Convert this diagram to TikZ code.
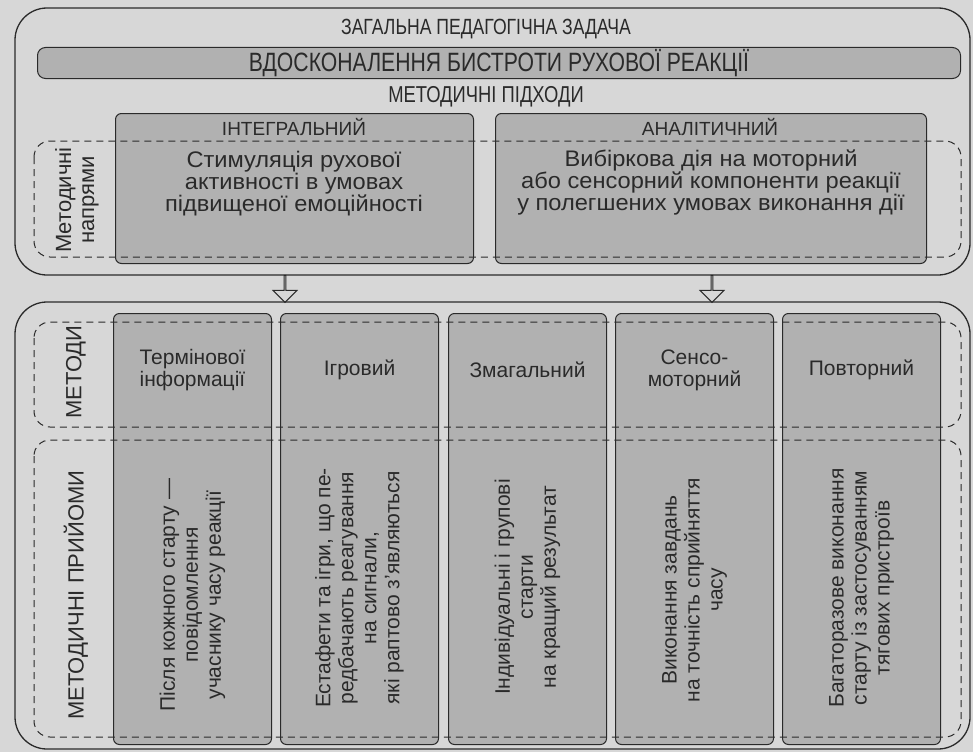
\documentclass[tikz,border=0pt]{standalone}
\usepackage{fontspec}
\setmainfont{Liberation Sans}
\newfontfamily\condfont[FakeStretch=0.8]{Liberation Sans}
\newfontfamily\wideface[FakeStretch=1.05]{Liberation Sans}
\usetikzlibrary{shapes.arrows}
\definecolor{paper}{HTML}{D7D7D7}
\definecolor{boxgray}{HTML}{B1B1B1}
\definecolor{ink}{HTML}{2A2A2A}

\begin{document}
\begin{tikzpicture}[x=1pt,y=-1pt,
  frame/.style={draw=ink, line width=1.3pt, rounded corners=32pt},
  panel/.style={draw=ink, fill=boxgray, line width=1pt, rounded corners=6pt,
    anchor=north west, inner sep=0pt},
  zone/.style={draw=ink, line width=1pt, dash pattern=on 7pt off 5pt,
    rounded corners=16pt},
  body/.style={text=ink, align=center, inner sep=0pt,
    font=\fontsize{21}{22}\selectfont},
  widebody/.style={body, font=\wideface\fontsize{22.5}{22}\selectfont},
  vbody/.style={body, rotate=90, font=\fontsize{21}{23}\selectfont},
  vlabel/.style={body, rotate=90, font=\fontsize{22}{23}\selectfont},
  head/.style={text=ink, inner sep=0pt, font=\fontsize{19}{21}\selectfont},
  caps/.style={text=ink, inner sep=0pt},
  hollow/.style={single arrow, draw=ink, fill=paper, line width=1pt,
    shape border rotate=270, minimum height=27pt, minimum width=24pt,
    single arrow head extend=7pt, inner sep=0pt}
]
% paper
\fill[paper] (0,0) rectangle (973,752);
\useasboundingbox (0,0) rectangle (973,752);

% ---------- upper block: task and approaches ----------
\draw[frame] (15,8) rectangle (970,275);
\node[caps, font=\condfont\fontsize{22}{24}\selectfont] (task) at (486,29)
  {ЗАГАЛЬНА ПЕДАГОГІЧНА ЗАДАЧА};
\node[panel, rounded corners=8pt, minimum width=923pt, minimum height=31pt]
  (goal) at (37,47) {};
\node[caps, font=\condfont\fontsize{26.5}{28}\selectfont] (goaltext) at (goal.center)
  {ВДОСКОНАЛЕННЯ БИСТРОТИ РУХОВОЇ РЕАКЦІЇ};
\node[caps, font=\condfont\fontsize{23}{24}\selectfont] (approaches) at (486,97)
  {МЕТОДИЧНІ ПІДХОДИ};

\node[panel, minimum width=358pt, minimum height=150pt] (integral) at (115,113) {};
\node[panel, minimum width=431pt, minimum height=150pt] (analytic) at (495,113) {};

% dashed zone of the methodical directions
\draw[zone] (34,141) rectangle (961,257);

\node[head] (integralhead) at (294,127) {ІНТЕГРАЛЬНИЙ};
\node[head] (analytichead) at (710,127) {АНАЛІТИЧНИЙ};
\node[widebody] (integralbody) at (294,184)
  {Стимуляція рухової\\активності в умовах\\підвищеної емоційності};
\node[widebody] (analyticbody) at (711,182)
  {Вибіркова дія на моторний\\або сенсорний компоненти реакції\\у полегшених умовах виконання дії};
\node[vlabel] (directions) at (77,200) {Методичні\\напрями};

% ---------- transition arrows ----------
\node[hollow] (arrowleft) at (285,288.5) {};
\node[hollow] (arrowright) at (712,288.5) {};

% ---------- lower block: methods and techniques ----------
\draw[frame] (15,302) rectangle (970,749);

\foreach \i/\x in {1/113, 2/280, 3/448, 4/615, 5/782}
  \node[panel, minimum width=158pt, minimum height=431pt] (col\i) at (\x,313) {};

\draw[zone] (34,322) rectangle (961,427);
\draw[zone] (34,440) rectangle (961,737);

\node[vlabel] (methods) at (76,372) {МЕТОДИ};
\node[vlabel] (techniques) at (76,595) {МЕТОДИЧНІ ПРИЙОМИ};

% method names
\node[body] (m1) at (col1.center |- 0,370) {Термінової\\інформації};
\node[body] (m2) at (col2.center |- 0,370) {Ігровий};
\node[body] (m3) at (col3.center |- 0,370) {Змагальний};
\node[body] (m4) at (col4.center |- 0,370) {Сенсо-\\моторний};
\node[body] (m5) at (col5.center |- 0,370) {Повторний};

% techniques, set vertically
\node[vbody] (t1) at (col1.center |- 0,595)
  {Після кожного старту —\\повідомлення\\учаснику часу реакції};
\node[vbody] (t2) at (col2.center |- 0,588)
  {Естафети та ігри, що пе-\\редбачають реагування\\на сигнали,\\які раптово з’являються};
\node[vbody] (t3) at (col3.center |- 0,587)
  {Індивідуальні і групові\\старти\\на кращий результат};
\node[vbody] (t4) at (col4.center |- 0,590)
  {Виконання завдань\\на точність сприйняття\\часу};
\node[vbody] (t5) at (col5.center |- 0,588)
  {Багаторазове виконання\\старту із застосуванням\\тягових пристроїв};
\end{tikzpicture}
\end{document}
